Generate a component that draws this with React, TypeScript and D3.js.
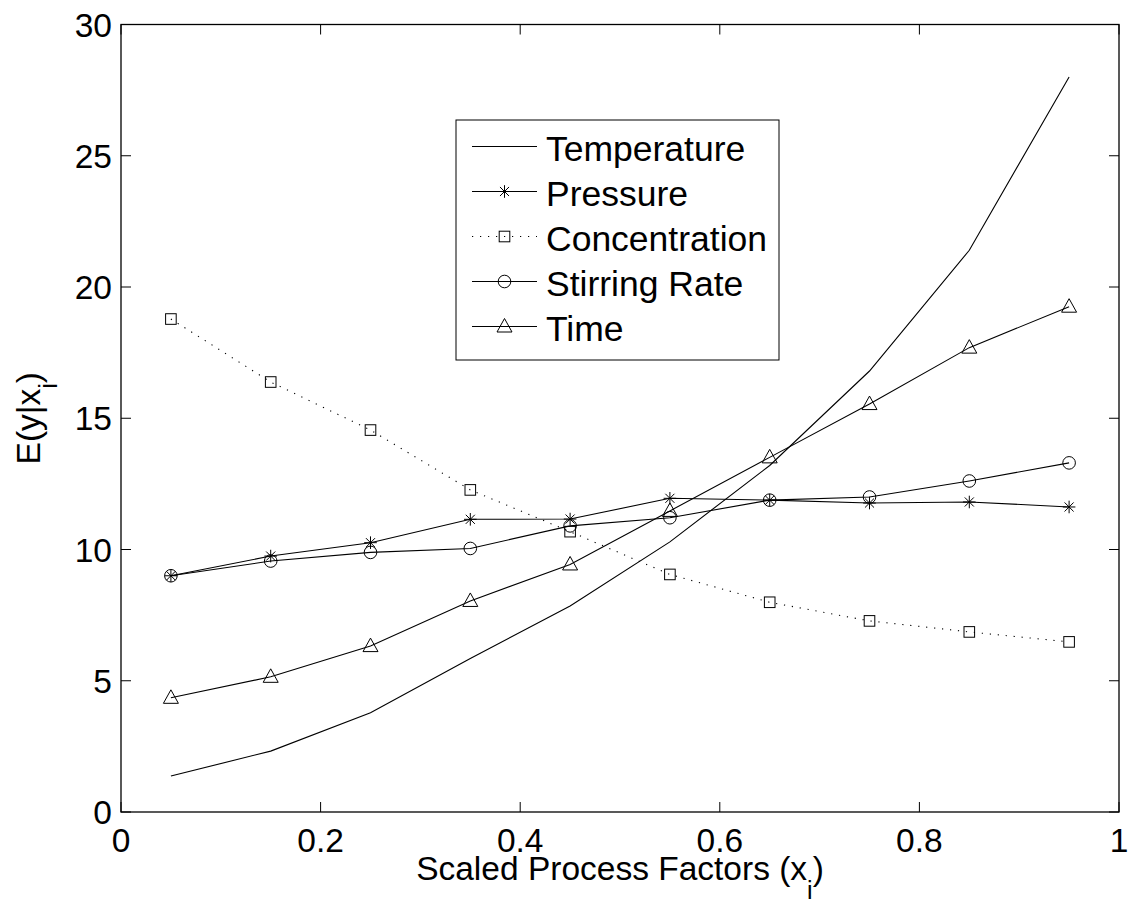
import React from "react";
import * as d3 from "d3";

const xs = [0.05, 0.15, 0.25, 0.35, 0.45, 0.55, 0.65, 0.75, 0.85, 0.95];
const temperature = [1.37, 2.32, 3.78, 5.85, 7.85, 10.29, 13.2, 16.8, 21.4, 28.0];
const pressure = [9.0, 9.75, 10.26, 11.15, 11.16, 11.95, 11.88, 11.77, 11.81, 11.62];
const concentration = [18.78, 16.38, 14.55, 12.27, 10.68, 9.05, 7.99, 7.28, 6.86, 6.48];
const stirring = [9.0, 9.56, 9.89, 10.04, 10.9, 11.21, 11.88, 12.0, 12.61, 13.3];
const time = [4.35, 5.15, 6.32, 8.04, 9.43, 11.47, 13.51, 15.54, 17.69, 19.25];

const xTicks = [0, 0.2, 0.4, 0.6, 0.8, 1];
const yTicks = [0, 5, 10, 15, 20, 25, 30];

type Marker = "none" | "star" | "square" | "circle" | "triangle";
const series: { name: string; values: number[]; marker: Marker; dash?: string }[] = [
  { name: "Temperature", values: temperature, marker: "none" },
  { name: "Pressure", values: pressure, marker: "star" },
  { name: "Concentration", values: concentration, marker: "square", dash: "1.2 6.8" },
  { name: "Stirring Rate", values: stirring, marker: "circle" },
  { name: "Time", values: time, marker: "triangle" },
];

const W = 1128, H = 909;
const L = 121, R = 1119, T = 24.5, B = 812;
const FONT = "'Liberation Sans', Arial, Helvetica, sans-serif";
const FS = 33.5;

const x = d3.scaleLinear().domain([0, 1]).range([L, R]);
const y = d3.scaleLinear().domain([0, 30]).range([B, T]);

function MarkerShape({ kind, cx, cy }: { kind: Marker; cx: number; cy: number }) {
  const st = { fill: "none", stroke: "#000", strokeWidth: 1 };
  if (kind === "circle") return <circle cx={cx} cy={cy} r={6.3} {...st} />;
  if (kind === "square") return <rect x={cx - 5.3} y={cy - 5.3} width={10.6} height={10.6} {...st} />;
  if (kind === "triangle") {
    const p = `${cx},${cy - 8} ${cx - 7.5},${cy + 5.5} ${cx + 7.5},${cy + 5.5}`;
    return <polygon points={p} {...st} />;
  }
  if (kind === "star") {
    const r = 6.3, d = r * 0.72;
    return (
      <g {...st}>
        <line x1={cx - r} y1={cy} x2={cx + r} y2={cy} />
        <line x1={cx} y1={cy - r} x2={cx} y2={cy + r} />
        <line x1={cx - d} y1={cy - d} x2={cx + d} y2={cy + d} />
        <line x1={cx - d} y1={cy + d} x2={cx + d} y2={cy - d} />
      </g>
    );
  }
  return null;
}

export default function App() {
  const line = d3
    .line<number>()
    .x((_, i) => x(xs[i]))
    .y((v) => y(v));
  const legX = 456, legY = 120, legW = 323, legH = 240;
  return (
    <svg width={W} height={H} style={{ position: "absolute", left: 0, top: 0, background: "#fff" }} fontFamily={FONT}>
      <rect x={0} y={0} width={W} height={H} fill="#fff" />
      {/* ticks */}
      {xTicks.map((t) => (
        <g key={"xt" + t}>
          <line x1={x(t)} x2={x(t)} y1={B} y2={B - 10} stroke="#000" strokeWidth={1} />
          <line x1={x(t)} x2={x(t)} y1={T} y2={T + 10} stroke="#000" strokeWidth={1} />
          <text x={x(t)} y={852} fontSize={FS} textAnchor="middle" fill="#000">{String(t)}</text>
        </g>
      ))}
      {yTicks.map((t) => (
        <g key={"yt" + t}>
          <line x1={L} x2={L + 10} y1={y(t)} y2={y(t)} stroke="#000" strokeWidth={1} />
          <line x1={R} x2={R - 10} y1={y(t)} y2={y(t)} stroke="#000" strokeWidth={1} />
          <text x={112} y={y(t) + 12} fontSize={FS} textAnchor="end" fill="#000">{String(t)}</text>
        </g>
      ))}
      {/* data */}
      {series.map((s) => (
        <g key={s.name}>
          <path d={line(s.values) || ""} fill="none" stroke="#000" strokeWidth={1.1} strokeDasharray={s.dash} />
          {s.values.map((v, i) => (
            <MarkerShape key={i} kind={s.marker} cx={x(xs[i])} cy={y(v)} />
          ))}
        </g>
      ))}
      {/* axes box */}
      <rect x={L} y={T} width={R - L} height={B - T} fill="none" stroke="#000" strokeWidth={1.3} />
      {/* legend */}
      <rect x={legX} y={legY} width={legW} height={legH} fill="#fff" stroke="#000" strokeWidth={1} />
      {series.map((s, i) => {
        const cy = 146.5 + i * 45;
        return (
          <g key={"lg" + s.name}>
            <line x1={472} x2={537} y1={cy} y2={cy} stroke="#000" strokeWidth={1.1} strokeDasharray={s.dash} />
            <MarkerShape kind={s.marker} cx={504.5} cy={cy} />
            <text x={546} y={cy + 14} fontSize={FS + 2} fill="#000">{s.name}</text>
          </g>
        );
      })}
      {/* axis labels */}
      <text x={620} y={880} fontSize={FS} textAnchor="middle" fill="#000">
        Scaled Process Factors (x<tspan fontSize={FS * 0.75} dy={19}>i</tspan><tspan dy={-19}>)</tspan>
      </text>
      <text transform={`translate(40,${(T + B) / 2}) rotate(-90)`} fontSize={FS} textAnchor="middle" fill="#000">
        E(y|x<tspan fontSize={FS * 0.75} dy={17}>i</tspan><tspan dy={-17}>)</tspan>
      </text>
    </svg>
  );
}
